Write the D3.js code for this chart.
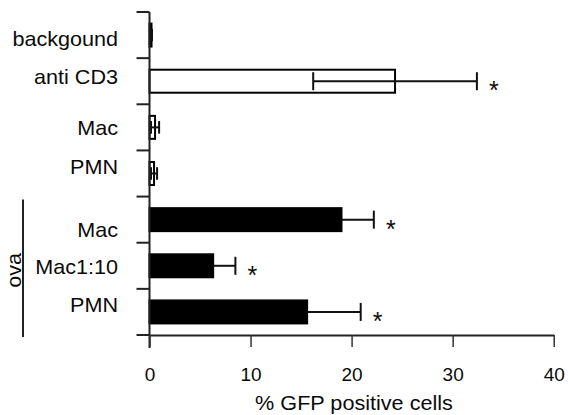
<!DOCTYPE html>
<html>
<head>
<meta charset="utf-8">
<script src="https://cdn.jsdelivr.net/npm/d3@7"></script>
<style>
  html, body { margin: 0; padding: 0; background: #fff; }
  svg { display: block; }
  text { font-family: "Liberation Sans", Arial, sans-serif; fill: #0a0a0a; }
</style>
</head>
<body>
<div id="chart"></div>
<script>
// ---- data ----
const categories = ["backgound", "anti CD3", "Mac", "PMN", "Mac", "Mac1:10", "PMN"];
const values     = [0.2, 24.3, 0.55, 0.45, 19.0, 6.3, 15.6];
const errors     = [0.05, 8.1, 0.4, 0.3, 3.2, 2.2, 5.3];
const filled     = [true, false, false, false, true, true, true];
const significant = [false, true, false, false, true, true, true];
const xTicks     = [0, 10, 20, 30, 40];
const groupLabel = "ova";
const groupMembers = [4, 5, 6];
const xTitle = "% GFP positive cells";

// ---- layout (not data) ----
const W = 568, H = 415;
const labelShift = [10.7, 2.3, 8, 0, 17, 8, 0];
const stretch = 1.08;

const rows = categories.map((c, i) => ({
  key: i, label: c, value: values[i], err: errors[i],
  filled: filled[i], sig: significant[i]
}));

const svg = d3.select("#chart").append("svg")
  .attr("width", W).attr("height", H);

const x = d3.scaleLinear().domain([0, 40]).range([149.5, 553.7]);
const y = d3.scaleBand().domain(rows.map(d => d.key)).range([12, 335]).paddingInner(0).paddingOuter(0);
const bh = 23;
const capH = 18;
const stroke = "#111";

// bars
svg.append("g").selectAll("rect").data(rows).join("rect")
  .attr("x", x(0))
  .attr("y", d => y(d.key) + y.bandwidth() / 2 - bh / 2)
  .attr("width", d => Math.max(0, x(d.value) - x(0)))
  .attr("height", bh)
  .attr("fill", d => d.filled ? "#000" : "#fff")
  .attr("stroke", "#000")
  .attr("stroke-width", 2);

// error bars (lower whisker hidden inside filled bars)
const eg = svg.append("g").attr("stroke", stroke).attr("stroke-width", 2);
rows.forEach(d => {
  const cy = y(d.key) + y.bandwidth() / 2;
  const lo = d.filled ? d.value : d.value - d.err;
  const hi = d.value + d.err;
  const ch = d.value < 2 ? capH * 0.7 : capH;
  eg.append("line").attr("x1", x(lo)).attr("x2", x(hi)).attr("y1", cy).attr("y2", cy);
  eg.append("line").attr("x1", x(hi)).attr("x2", x(hi)).attr("y1", cy - ch / 2).attr("y2", cy + ch / 2);
  if (!d.filled) {
    eg.append("line").attr("x1", x(lo)).attr("x2", x(lo)).attr("y1", cy - ch / 2).attr("y2", cy + ch / 2);
  }
});

// asterisks
svg.append("g").selectAll("text").data(rows.filter(d => d.sig)).join("text")
  .attr("x", d => x(d.value + d.err) + 17)
  .attr("y", d => y(d.key) + y.bandwidth() / 2 + 18)
  .attr("text-anchor", "middle")
  .attr("font-size", 25)
  .text("*");

// y axis line + ticks at band boundaries
const ax = svg.append("g").attr("stroke", "#222").attr("stroke-width", 2);
ax.append("line").attr("x1", x(0)).attr("x2", x(0)).attr("y1", 12).attr("y2", 348);
const bounds = rows.map(d => y(d.key)).concat([y.range()[1]]);
ax.selectAll(".yt").data(bounds).join("line")
  .attr("x1", x(0) - 13).attr("x2", x(0))
  .attr("y1", d => d).attr("y2", d => d);

// x axis
const xAxis = d3.axisBottom(x).tickValues(xTicks).tickSize(12).tickPadding(21).tickSizeOuter(0);
const xg = svg.append("g").attr("transform", `translate(0,${y.range()[1]})`).call(xAxis);
xg.select(".domain").attr("stroke", "#222").attr("stroke-width", 2);
xg.selectAll(".tick line").attr("stroke", "#333").attr("stroke-width", 1.5);
xg.selectAll(".tick text").attr("font-size", 19).attr("fill", "#0a0a0a")
  .attr("font-family", "'Liberation Sans', Arial, sans-serif");

svg.append("text")
  .attr("transform", `translate(354,410) scale(1.03,1)`)
  .attr("text-anchor", "middle")
  .attr("font-size", 21).text(xTitle);

// category labels
svg.append("g").selectAll("text").data(rows).join("text")
  .attr("transform", (d, i) => `translate(118,${y(d.key) + y.bandwidth() / 2 + labelShift[i]}) scale(${stretch},1)`)
  .attr("text-anchor", "end")
  .attr("font-size", 20)
  .text(d => d.label);

// group bracket
const gTop = y(groupMembers[0]) + 3;
const gBot = y(groupMembers[groupMembers.length - 1]) + y.bandwidth() + 2;
svg.append("line").attr("x1", 23).attr("x2", 23).attr("y1", gTop).attr("y2", gBot)
  .attr("stroke", "#222").attr("stroke-width", 2);
svg.append("text")
  .attr("transform", `translate(21,${(gTop + gBot) / 2 + 2}) rotate(-90) scale(${stretch},1)`)
  .attr("text-anchor", "middle")
  .attr("font-size", 20)
  .text(groupLabel);
</script>
</body>
</html>
